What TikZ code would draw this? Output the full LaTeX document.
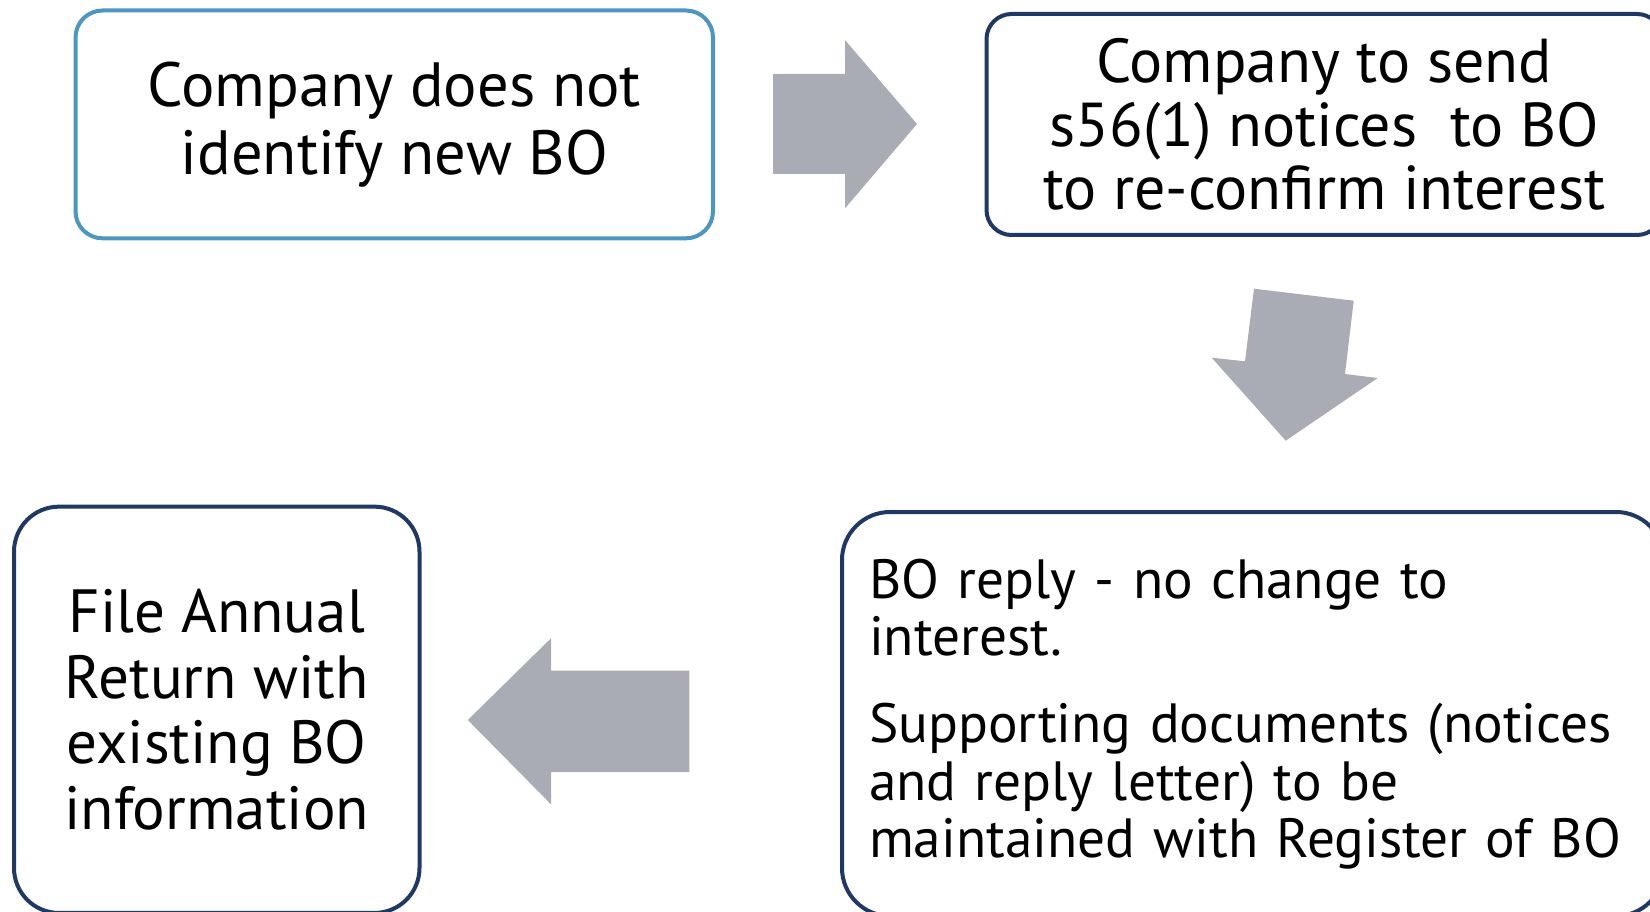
\documentclass[tikz,border=0pt]{standalone}
\usepackage{fontspec}
\setmainfont{PT Sans}
\definecolor{lightblue}{RGB}{76,150,192}
\definecolor{navy}{RGB}{31,56,100}
\definecolor{arrowgray}{RGB}{170,172,181}
\tikzset{
  box/.style={draw, line width=4pt, rounded corners=#1, fill=white, inner sep=0pt},
  box/.default=27pt,
  blockarrow/.style={fill=arrowgray, draw=none},
}
\begin{document}
\begin{tikzpicture}[x=1pt,y=-1pt]
\useasboundingbox (0,0) rectangle (1650,912);
% top left
\node[box=27pt, draw=lightblue, minimum width=637.5pt, minimum height=227.8pt,
      align=center, font=\fontsize{62.5}{68}\selectfont] (b1) at (394.25,124.4)
  {Company does not\\identify new BO};
% top right
\node[box=25pt, draw=navy, minimum width=675.5pt, minimum height=221pt,
      align=center, font=\fontsize{62}{63.5}\selectfont] (b2) at (1324.25,124.5)
  {Company to send\\s56(1) notices\ \ to BO\\to re-confirm interest};
% bottom left
\node[box=45pt, draw=navy, minimum width=405.5pt, minimum height=406.3pt,
      align=center, font=\fontsize{61}{65.5}\selectfont] (b3) at (216.75,709.8)
  {File Annual\\Return with\\existing BO\\information};
% bottom right
\node[box=48pt, draw=navy, anchor=north west, minimum width=822pt, minimum height=404pt,
      inner xsep=27pt, text width=768pt, align=left,
      font=\fontsize{55.3}{57.5}\selectfont] (b4) at (840,510)
  {BO reply - no change to\\interest.\\[29.5pt]Supporting documents (notices\\and reply letter) to be\\maintained with Register of BO};
% block arrows
\fill[blockarrow] (773,74) -- (845,74) -- (845,40) -- (917,124) -- (845,208.3) -- (845,174) -- (773,174) -- cycle;
\fill[blockarrow] (1254,288.7) -- (1353.7,300.7) -- (1345,374) -- (1377.7,378) -- (1285.7,440.7) -- (1211.7,357.7) -- (1245,361.3) -- cycle;
\fill[blockarrow] (689.3,670.7) -- (551,670.7) -- (551,638.3) -- (467.8,720) -- (551,804.3) -- (551,772) -- (689.3,772) -- cycle;
\end{tikzpicture}
\end{document}
